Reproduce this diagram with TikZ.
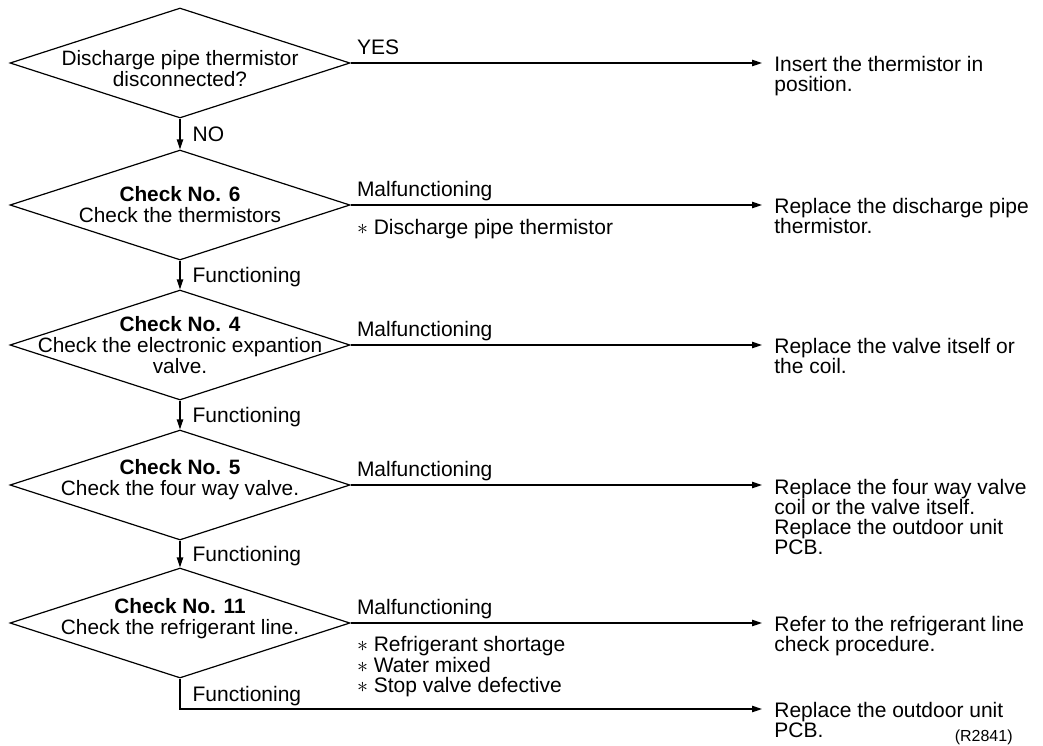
\documentclass[tikz,border=0pt]{standalone}
\usepackage{fontspec}
\setmainfont{Liberation Sans}
\usetikzlibrary{positioning, arrows.meta, shapes.geometric}

\tikzset{
  dec/.style={draw, shape=diamond, minimum width=170pt, minimum height=55pt,
    inner sep=0pt, line width=0.6pt},
  dtxt/.style={align=center, font=\fontsize{10.4}{10.5}\selectfont, inner sep=0pt},
  res/.style={anchor=north west, align=left, font=\fontsize{10.5}{10}\selectfont,
    inner xsep=6pt, inner ysep=0pt},
  lbl/.style={font=\fontsize{10.5}{10}\selectfont, inner sep=0pt, text depth=0pt},
  note/.style={align=left, font=\fontsize{10.5}{10.3}\selectfont, inner sep=0pt},
  arr/.style={line width=0.6pt, -{Triangle[length=5pt, width=3.2pt]}},
}

\begin{document}
\begin{tikzpicture}[x=0.5pt, y=-0.5pt]
\useasboundingbox (0,0) rectangle (1043,745);

% decisions
\node[dec] (d1) at (180,63) {};
\node[dec] (d2) at (180,205) {};
\node[dec] (d3) at (180,345) {};
\node[dec] (d4) at (180,485) {};
\node[dec] (d5) at (180,623) {};
\node[dtxt] (t1) at ([yshift=-3pt]d1) {Discharge pipe thermistor\\disconnected?};
\node[dtxt] (t2) at (d2) {\textbf{Check No. 6}\\Check the thermistors};
\node[dtxt] (t3) at (d3) {\textbf{Check No. 4}\\Check the electronic expantion\\valve.};
\node[dtxt] (t4) at ([yshift=2.5pt]d4) {\textbf{Check No. 5}\\Check the four way valve.};
\node[dtxt] (t5) at ([yshift=2pt]d5) {\textbf{Check No. 11}\\Check the refrigerant line.};

% results
\node[res] (r1) at (762,56) {Insert the thermistor in\\position.};
\node[res] (r2) at (762,198) {Replace the discharge pipe\\thermistor.};
\node[res] (r3) at (762,338) {Replace the valve itself or\\the coil.};
\node[res] (r4) at (762,479) {Replace the four way valve\\coil or the valve itself.\\Replace the outdoor unit\\PCB.};
\node[res] (r5) at (762,616) {Refer to the refrigerant line\\check procedure.};
\node[res] (r6) at (762,702) {Replace the outdoor unit\\PCB.};
\coordinate (e6) at (762,709);
\node[font=\fontsize{8}{8}\selectfont, inner sep=0pt, anchor=east] (code) at (1013,737) {(R2841)};

% yes / malfunctioning branches
\draw[arr] (d1.east) -- (d1.east -| r1.west);
\draw[arr] (d2.east) -- (d2.east -| r2.west);
\draw[arr] (d3.east) -- (d3.east -| r3.west);
\draw[arr] (d4.east) -- (d4.east -| r4.west);
\draw[arr] (d5.east) -- (d5.east -| r5.west);
\node[lbl, above right=4pt and 3pt of d1.east] (yes) {YES};
\node[lbl, above right=4pt and 3pt of d2.east] (m2) {Malfunctioning};
\node[lbl, above right=4pt and 3pt of d3.east] (m3) {Malfunctioning};
\node[lbl, above right=4pt and 3pt of d4.east] (m4) {Malfunctioning};
\node[lbl, above right=4pt and 3pt of d5.east] (m5) {Malfunctioning};
\node[note, below right=7pt and 3pt of d2.east] (n2) {$\ast$ Discharge pipe thermistor};
\node[note, below right=6.5pt and 3pt of d5.east] (n5)
  {$\ast$ Refrigerant shortage\\$\ast$ Water mixed\\$\ast$ Stop valve defective};

% no / functioning branches
\draw[arr] (d1.south) -- node[lbl, right=6pt] (no) {NO} (d2.north);
\draw[arr] (d2.south) -- node[lbl, right=6pt] (f1) {Functioning} (d3.north);
\draw[arr] (d3.south) -- node[lbl, right=6pt] (f2) {Functioning} (d4.north);
\draw[arr] (d4.south) -- node[lbl, right=6pt] (f3) {Functioning} (d5.north);
\draw[arr] (d5.south) |- node[lbl, pos=0.25, right=6pt] (f4) {Functioning} (e6);
\end{tikzpicture}
\end{document}
